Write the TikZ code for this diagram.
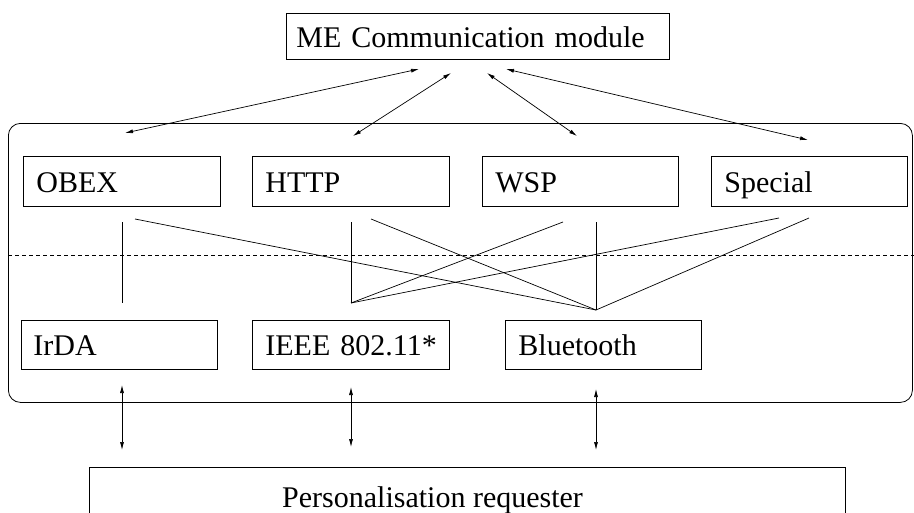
\documentclass[tikz,border=0pt]{standalone}
\usepackage{fontspec}
\setmainfont{Liberation Serif}
\usetikzlibrary{arrows.meta}
\newcommand{\boxfont}{\fontsize{30}{36}\selectfont}
\tikzset{
  box/.style={draw, line width=0.8pt, anchor=north west, inner xsep=13pt, inner ysep=0pt,
    text height=24pt, text depth=2pt, align=left, font=\boxfont},
  framebox/.style={draw, line width=0.8pt, anchor=north west, rounded corners=12pt, inner sep=0pt},
  link/.style={line width=0.7pt},
  biarrow/.style={line width=0.7pt, {Latex[length=8pt,width=4pt]}-{Latex[length=8pt,width=4pt]}},
  sep/.style={line width=0.7pt, dash pattern=on 4pt off 3pt},
}
\begin{document}
\begin{tikzpicture}[x=1pt,y=-1pt]
\useasboundingbox (0,0) rectangle (914,512);
\begin{scope}
\clip (0,0) rectangle (914,512);
% frame
\node[framebox, minimum width=904pt, minimum height=279pt] (frame) at (8,123) {};
% top
\node[box, inner xsep=10pt, text width=363pt, minimum height=46pt] (me) at (286,13) {\mbox{ME Communication module}};
% protocol boxes
\node[box, text width=171pt, minimum height=50pt] (obex) at (23,156) {OBEX};
\node[box, text width=171pt, minimum height=50pt] (http) at (252,156) {HTTP};
\node[box, text width=170pt, minimum height=50pt] (wsp) at (482,156) {WSP};
\node[box, text width=170pt, minimum height=50pt] (special) at (711,156) {Special};
% bearer boxes
\node[box, inner xsep=12pt, text width=172pt, minimum height=49pt] (irda) at (21,320) {IrDA};
\node[box, text width=171pt, minimum height=49pt] (ieee) at (252,320) {\mbox{IEEE 802.11*}};
\node[box, text width=170pt, minimum height=49pt] (bt) at (505,320) {Bluetooth};
% requester
\node[draw, line width=0.8pt, anchor=north west, minimum width=756pt, minimum height=90pt] (pers) at (89,467) {};
\node[anchor=base west, font=\boxfont, inner sep=0pt] (perstext) at (282,507) {Personalisation requester};
\end{scope}

% coordinates for arrows from ME module
\coordinate (m1) at (419,69);
\coordinate (m2) at (451,73);
\coordinate (m3) at (487,73);
\coordinate (m4) at (506,69);
\coordinate (p1) at (125,133);
\coordinate (p2) at (353,136);
\coordinate (p3) at (577,136);
\coordinate (p4) at (808,140);
\draw[biarrow] (m1) -- (p1);
\draw[biarrow] (m2) -- (p2);
\draw[biarrow] (m3) -- (p3);
\draw[biarrow] (m4) -- (p4);

% mapping lines
\coordinate (oa) at (122,222);
\coordinate (ob) at (135,219);
\coordinate (ha) at (351,222);
\coordinate (hb) at (371,219);
\coordinate (wa) at (563,222);
\coordinate (ba) at (596,222);
\coordinate (sa) at (779,218);
\coordinate (sb) at (809,218);
\coordinate (iz) at (122,303);
\coordinate (ez) at (351,303);
\coordinate (bz) at (596,310);
\draw[link] (oa) -- (iz);
\draw[link] (ha) -- (ez);
\draw[link] (ba) -- (bz);
\draw[link] (ob) -- (bz);
\draw[link] (hb) -- (bz);
\draw[link] (wa) -- (ez);
\draw[link] (sa) -- (ez);
\draw[link] (sb) -- (bz);

% dashed separator
\coordinate (dl) at (8,255);
\coordinate (dr) at (914,255);
\draw[sep] (dl) -- (dr);

% arrows to requester
\coordinate (r1a) at (122,385);
\coordinate (r1b) at (122,450);
\coordinate (r2a) at (351,387);
\coordinate (r2b) at (351,447);
\coordinate (r3a) at (596,389);
\coordinate (r3b) at (596,450);
\draw[biarrow] (r1a) -- (r1b);
\draw[biarrow] (r2a) -- (r2b);
\draw[biarrow] (r3a) -- (r3b);
\end{tikzpicture}
\end{document}
